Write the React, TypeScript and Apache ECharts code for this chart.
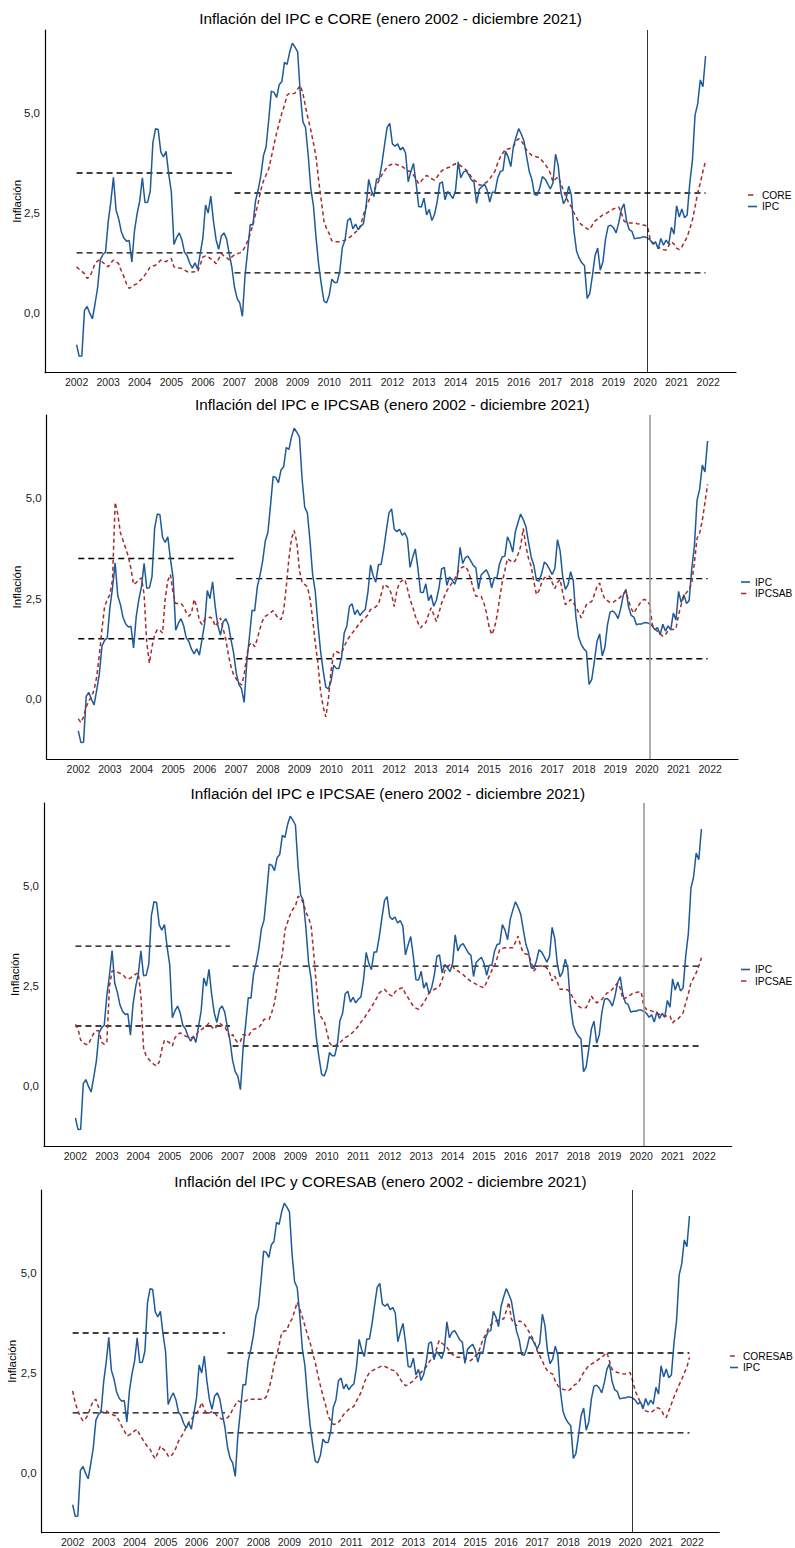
import React, { useEffect, useRef } from "react";
import * as echarts from "echarts";

// ---------- DATA (monthly, Jan 2002 - Dec 2021) ----------
const yearTicks = [2002, 2003, 2004, 2005, 2006, 2007, 2008, 2009, 2010, 2011, 2012, 2013, 2014, 2015, 2016, 2017, 2018, 2019, 2020, 2021, 2022];
const yTicks = [0, 2.5, 5];

const ipc = [
  -0.80, -1.09, -1.08, 0.06, 0.16, -0.01, -0.15, 0.22, 0.63, 1.32, 1.46, 1.52,
  2.27, 2.77, 3.39, 2.57, 2.35, 2.03, 1.87, 1.79, 1.81, 1.27, 2.05, 2.48,
  2.80, 3.38, 2.76, 2.77, 3.05, 4.26, 4.61, 4.59, 4.03, 3.90, 4.04, 3.48,
  3.03, 1.71, 1.88, 2.00, 1.83, 1.52, 1.43, 1.24, 1.12, 1.25, 1.09, 1.49,
  1.88, 2.70, 2.50, 2.92, 2.30, 1.83, 1.59, 1.92, 2.00, 1.85, 1.48, 1.14,
  0.64, 0.36, 0.25, -0.09, 0.92, 1.55, 2.21, 2.20, 2.80, 3.08, 3.43, 3.93,
  4.15, 4.82, 5.55, 5.52, 5.39, 5.71, 5.79, 6.27, 6.22, 6.54, 6.75, 6.65,
  6.53, 5.49, 4.78, 4.64, 3.95, 3.10, 2.68, 1.87, 1.20, 0.71, 0.29, 0.25,
  0.44, 0.84, 0.76, 0.76, 1.04, 1.64, 1.82, 2.31, 2.37, 2.10, 2.22, 2.08,
  2.17, 2.23, 2.66, 3.34, 3.07, 2.91, 3.35, 3.35, 3.73, 4.20, 4.64, 4.74,
  4.23, 4.17, 4.23, 4.08, 4.14, 4.00, 3.28, 3.53, 3.74, 3.25, 2.66, 2.65,
  2.87, 2.45, 2.59, 2.31, 2.46, 2.77, 3.24, 3.28, 2.83, 3.04, 2.96, 2.86,
  3.07, 3.78, 3.38, 3.52, 3.56, 3.45, 3.33, 3.27, 2.74, 3.09, 3.16, 3.22,
  3.07, 2.77, 3.02, 3.02, 3.37, 3.54, 3.56, 4.04, 3.90, 3.66, 4.17, 4.40,
  4.61, 4.47, 4.30, 3.91, 3.54, 3.34, 2.96, 2.94, 3.13, 3.41, 3.35, 3.23,
  3.10, 3.25, 3.97, 3.69, 3.04, 2.73, 2.85, 3.17, 2.94, 2.04, 1.54, 1.36,
  1.25, 1.18, 0.36, 0.48, 0.93, 1.43, 1.62, 1.07, 1.28, 1.85, 2.17, 2.19,
  2.13, 2.00, 2.25, 2.59, 2.73, 2.29, 2.08, 2.04, 1.85, 1.87, 1.87, 1.90,
  1.90, 1.87, 1.82, 1.72, 1.78, 1.60, 1.86, 1.69, 1.82, 1.72, 2.14, 1.97,
  2.68, 2.40, 2.60, 2.38, 2.45, 3.25, 3.81, 4.95, 5.23, 5.83, 5.66, 6.43,
];

const core = [
  1.15, 1.09, 1.04, 0.98, 0.86, 0.90, 1.05, 1.23, 1.30, 1.33, 1.26, 1.20,
  1.15, 1.25, 1.32, 1.28, 1.23, 1.05, 0.90, 0.72, 0.61, 0.65, 0.70, 0.73,
  0.80, 0.86, 0.95, 1.05, 1.15, 1.17, 1.19, 1.25, 1.32, 1.30, 1.28, 1.33,
  1.36, 1.15, 1.13, 1.12, 1.11, 1.07, 1.03, 1.03, 1.02, 1.03, 1.03, 1.20,
  1.40, 1.42, 1.40, 1.35, 1.30, 1.23, 1.35, 1.48, 1.42, 1.38, 1.32, 1.40,
  1.45, 1.48, 1.50, 1.53, 1.65, 1.80, 1.98, 2.20, 2.48, 2.75, 3.07, 3.30,
  3.45, 3.60, 3.90, 4.20, 4.50, 4.75, 5.00, 5.20, 5.45, 5.50, 5.48, 5.50,
  5.60, 5.69, 5.50, 5.15, 4.85, 4.57, 4.25, 3.90, 3.30, 2.80, 2.30, 2.10,
  1.98, 1.80, 1.78, 1.78, 1.78, 1.80, 1.82, 1.86, 1.90, 1.95, 2.02, 2.07,
  2.20, 2.45, 2.65, 2.80, 2.95, 3.07, 3.20, 3.32, 3.45, 3.55, 3.65, 3.70,
  3.72, 3.73, 3.70, 3.68, 3.65, 3.60, 3.55, 3.53, 3.45, 3.35, 3.23, 3.30,
  3.38, 3.44, 3.40, 3.35, 3.32, 3.40, 3.50, 3.57, 3.60, 3.63, 3.65, 3.70,
  3.73, 3.72, 3.68, 3.63, 3.58, 3.50, 3.40, 3.32, 3.28, 3.20, 3.20, 3.24,
  3.28, 3.35, 3.45, 3.55, 3.75, 3.90, 4.00, 4.10, 4.10, 4.12, 4.15, 4.30,
  4.36, 4.30, 4.20, 4.07, 4.00, 3.94, 3.92, 3.90, 3.88, 3.80, 3.72, 3.62,
  3.50, 3.28, 3.35, 3.40, 3.25, 3.05, 2.90, 2.75, 2.65, 2.50, 2.38, 2.25,
  2.20, 2.15, 2.10, 2.09, 2.20, 2.30, 2.35, 2.40, 2.45, 2.48, 2.52, 2.56,
  2.60, 2.63, 2.65, 2.50, 2.30, 2.25, 2.25, 2.25, 2.25, 2.23, 2.22, 2.20,
  2.19, 2.15, 1.82, 1.75, 1.70, 1.65, 1.60, 1.58, 1.57, 1.68, 1.78, 1.72,
  1.62, 1.58, 1.65, 1.78, 1.90, 2.10, 2.32, 2.65, 3.00, 3.25, 3.55, 3.80,
];

const ipcsab = [
  -0.50, -0.59, -0.45, -0.20, -0.05, 0.05, 0.23, 0.55, 1.10, 1.75, 2.30, 2.48,
  2.60, 2.98, 4.90, 4.60, 4.14, 3.95, 3.75, 3.55, 3.25, 2.85, 2.90, 2.97,
  3.02, 2.60, 1.40, 0.89, 1.30, 1.60, 1.73, 1.72, 1.64, 2.50, 2.95, 3.10,
  2.64, 2.38, 2.38, 2.38, 2.30, 2.15, 2.06, 2.14, 2.48, 2.30, 1.95, 1.85,
  1.98, 2.00, 2.04, 2.00, 1.81, 1.90, 2.02, 1.75, 1.50, 1.10, 0.80, 0.60,
  0.50, 0.40, 0.35, 0.60, 1.10, 1.35, 1.40, 1.30, 1.50, 1.75, 1.95, 2.06,
  2.10, 2.15, 2.20, 2.10, 2.00, 1.98, 2.20, 2.80, 3.50, 4.00, 4.20, 3.90,
  3.20, 2.90, 2.85, 2.80, 2.50, 2.00, 1.40, 0.90, 0.20, -0.20, -0.45, 0.00,
  0.70, 1.14, 1.18, 1.15, 1.14, 1.30, 1.45, 1.55, 1.64, 1.72, 1.81, 1.90,
  1.98, 2.02, 2.10, 2.23, 2.25, 2.30, 2.35, 2.60, 2.85, 2.82, 2.77, 2.60,
  2.30, 2.70, 2.90, 2.95, 2.98, 2.75, 2.48, 2.30, 2.06, 1.90, 1.77, 1.85,
  1.90, 2.10, 2.27, 2.10, 1.93, 2.15, 2.39, 2.55, 2.70, 2.80, 2.90, 3.00,
  3.14, 3.25, 3.29, 3.31, 3.20, 3.00, 2.75, 2.56, 2.56, 2.56, 2.40, 2.15,
  1.81, 1.60, 1.75, 2.06, 2.50, 2.90, 3.20, 3.50, 3.45, 3.40, 3.45, 3.60,
  3.80, 4.25, 3.81, 3.50, 3.31, 2.93, 2.60, 2.70, 2.90, 3.02, 3.05, 3.06,
  2.90, 2.75, 2.90, 2.98, 2.64, 2.35, 2.40, 2.48, 2.40, 2.30, 2.15, 2.02,
  2.20, 2.35, 2.40, 2.43, 2.60, 2.80, 2.89, 2.65, 2.48, 2.45, 2.40, 2.40,
  2.45, 2.48, 2.55, 2.62, 2.68, 2.45, 2.25, 2.14, 2.25, 2.35, 2.45, 2.48,
  2.45, 2.35, 1.85, 1.75, 1.68, 1.62, 1.56, 1.60, 1.70, 1.73, 1.73, 1.75,
  2.10, 2.35, 2.56, 2.65, 2.73, 2.90, 3.39, 4.00, 4.14, 4.45, 4.89, 5.35,
];

const ipcsae = [
  1.54, 1.42, 1.15, 1.08, 1.04, 1.04, 1.20, 1.32, 1.38, 1.38, 1.10, 1.04,
  1.10, 2.50, 2.88, 2.88, 2.85, 2.82, 2.79, 2.72, 2.67, 2.70, 2.75, 2.80,
  2.83, 2.25, 0.95, 0.75, 0.67, 0.60, 0.54, 0.50, 0.60, 0.92, 1.15, 1.12,
  1.08, 1.00, 1.21, 1.28, 1.33, 1.30, 1.25, 1.22, 1.21, 1.21, 1.25, 1.38,
  1.40, 1.46, 1.50, 1.58, 1.48, 1.42, 1.50, 1.58, 1.52, 1.50, 1.35, 1.21,
  1.29, 1.17, 1.08, 1.12, 1.29, 1.27, 1.25, 1.35, 1.42, 1.44, 1.46, 1.55,
  1.67, 1.67, 1.67, 1.85, 2.08, 2.50, 3.00, 3.30, 3.90, 4.10, 4.29, 4.42,
  4.50, 4.75, 4.70, 4.58, 4.35, 4.21, 4.00, 3.30, 2.50, 1.85, 1.70, 1.63,
  1.35, 1.08, 1.00, 1.00, 1.05, 1.08, 1.15, 1.21, 1.25, 1.29, 1.35, 1.42,
  1.50, 1.60, 1.67, 1.78, 1.88, 1.98, 2.08, 2.20, 2.33, 2.38, 2.42, 2.35,
  2.28, 2.25, 2.35, 2.42, 2.44, 2.46, 2.30, 2.21, 2.10, 2.00, 1.95, 1.92,
  2.00, 2.08, 2.20, 2.33, 2.38, 2.42, 2.45, 2.50, 2.65, 2.88, 2.95, 3.05,
  3.00, 2.90, 2.88, 2.83, 2.79, 2.72, 2.67, 2.62, 2.58, 2.55, 2.50, 2.48,
  2.46, 2.60, 2.75, 2.90, 3.00, 3.20, 3.42, 3.44, 3.46, 3.46, 3.46, 3.46,
  3.60, 3.75, 3.50, 3.33, 3.30, 3.29, 3.10, 2.88, 2.95, 3.00, 3.00, 3.00,
  2.95, 2.85, 2.63, 2.75, 2.60, 2.42, 2.42, 2.42, 2.40, 2.33, 2.20, 2.08,
  2.00, 1.96, 1.96, 1.96, 2.10, 2.25, 2.15, 2.08, 2.12, 2.17, 2.25, 2.33,
  2.35, 2.42, 2.50, 2.58, 2.45, 2.17, 2.20, 2.25, 2.28, 2.33, 2.34, 2.35,
  2.35, 2.00, 1.92, 1.90, 1.88, 1.85, 1.82, 1.79, 1.77, 1.75, 1.75, 1.75,
  1.58, 1.65, 1.67, 1.75, 1.83, 2.08, 2.30, 2.58, 2.70, 2.83, 3.00, 3.21,
];

const coresab = [
  2.05, 1.75, 1.55, 1.40, 1.30, 1.35, 1.46, 1.65, 1.80, 1.84, 1.65, 1.52,
  1.52, 1.55, 1.50, 1.46, 1.44, 1.42, 1.30, 1.17, 1.05, 0.92, 0.95, 1.00,
  1.05, 1.09, 0.95, 0.85, 0.75, 0.65, 0.59, 0.45, 0.35, 0.50, 0.67, 0.60,
  0.55, 0.42, 0.40, 0.50, 0.62, 0.79, 0.90, 1.00, 1.15, 1.26, 1.34, 1.42,
  1.50, 1.59, 1.76, 1.59, 1.46, 1.50, 1.53, 1.50, 1.42, 1.38, 1.34, 1.36,
  1.38, 1.45, 1.59, 1.70, 1.80, 1.78, 1.76, 1.80, 1.84, 1.84, 1.84, 1.84,
  1.84, 1.84, 1.84, 1.90, 2.10, 2.34, 2.70, 2.93, 3.20, 3.51, 3.55, 3.56,
  3.75, 3.85, 4.05, 4.27, 4.10, 3.90, 3.68, 3.45, 3.26, 3.00, 2.76, 2.45,
  2.18, 1.92, 1.70, 1.42, 1.30, 1.21, 1.22, 1.26, 1.35, 1.46, 1.52, 1.59,
  1.62, 1.67, 1.80, 1.92, 2.05, 2.26, 2.40, 2.51, 2.55, 2.59, 2.62, 2.65,
  2.68, 2.66, 2.63, 2.59, 2.57, 2.55, 2.45, 2.34, 2.25, 2.18, 2.20, 2.26,
  2.30, 2.38, 2.45, 2.52, 2.59, 2.65, 2.76, 2.85, 2.93, 3.10, 3.31, 3.25,
  3.20, 3.14, 3.05, 2.97, 2.93, 2.89, 2.89, 2.89, 2.87, 2.84, 2.80, 2.85,
  2.92, 2.97, 3.15, 3.35, 3.45, 3.60, 3.70, 3.77, 3.80, 3.82, 3.85, 3.85,
  4.05, 4.27, 3.85, 3.75, 3.68, 3.80, 3.78, 3.72, 3.62, 3.51, 3.40, 3.26,
  3.05, 2.93, 2.80, 2.65, 2.55, 2.50, 2.47, 2.30, 2.18, 2.12, 2.09, 2.07,
  2.05, 2.10, 2.18, 2.22, 2.26, 2.40, 2.51, 2.60, 2.68, 2.72, 2.76, 2.80,
  2.85, 2.89, 2.95, 3.01, 2.80, 2.59, 2.55, 2.51, 2.50, 2.48, 2.47, 2.49,
  2.51, 2.30, 2.05, 1.90, 1.76, 1.65, 1.55, 1.53, 1.51, 1.55, 1.63, 1.62,
  1.59, 1.45, 1.38, 1.55, 1.72, 1.90, 2.05, 2.20, 2.34, 2.50, 2.64, 2.89,
];

// inflation target ranges (dates as decimal years)
const targetPeriods = [
  { start: 2002, end: 2006 + 11 / 12, low: 1.5, high: 3.5 },
  { start: 2007, end: 2021 + 11 / 12, low: 1.0, high: 3.0 },
];
const markerDate = 2020.08;

// ---------- STYLE ----------
const FONT = "'Liberation Sans', Arial, Helvetica, sans-serif";
const BLUE = "#1f5a98";
const RED = "#a52a2a";
const START = 2002;
const toPairs = (vals: number[]) => vals.map((v, i) => [START + i / 12, v]);
const SOLID_ICON = "path://M0,0H10V1H0Z";
const DASH_ICON = "path://M0,0H6V1H0Z M9.8,0H10V1H9.8Z";

const panels = [
  {
    title: "Inflación del IPC e CORE (enero 2002 - diciembre 2021)",
    otherName: "CORE", other: core, order: ["CORE", "IPC"],
    grid: { left: 45, top: 30, width: 691, height: 342.7 },
    titleTop: 11, legend: { left: 748, top: 190 }, legendW: 9, nameGap: 22,
    vline: { color: "#000", width: 0.8 },
  },
  {
    title: "Inflación del IPC e IPCSAB (enero 2002 - diciembre 2021)",
    otherName: "IPCSAB", other: ipcsab, order: ["IPC", "IPCSAB"],
    grid: { left: 46.7, top: 415, width: 691.3, height: 344 },
    titleTop: 397, legend: { left: 741, top: 577 }, legendW: 9, nameGap: 23.5,
    vline: { color: "#9a9a9a", width: 1.6 },
  },
  {
    title: "Inflación del IPC e IPCSAE (enero 2002 - diciembre 2021)",
    otherName: "IPCSAE", other: ipcsae, order: ["IPC", "IPCSAE"],
    grid: { left: 44, top: 803, width: 687.7, height: 343 },
    titleTop: 786, legend: { left: 741, top: 964.5 }, legendW: 9, nameGap: 23,
    vline: { color: "#9a9a9a", width: 1.6 },
  },
  {
    title: "Inflación del IPC y CORESAB (enero 2002 - diciembre 2021)",
    otherName: "CORESAB", other: coresab, order: ["CORESAB", "IPC"],
    grid: { left: 41.7, top: 1190, width: 677.6, height: 342.7 },
    titleTop: 1174, legend: { left: 730, top: 1351 }, legendW: 8, nameGap: 23.5,
    vline: { color: "#000", width: 0.8 },
  },
];

export default function App() {
  const ref = useRef<HTMLDivElement>(null);

  useEffect(() => {
    if (!ref.current) return;
    const chart = echarts.init(ref.current, undefined, { renderer: "svg" });

    const grids: any[] = [];
    const xAxes: any[] = [];
    const yAxes: any[] = [];
    const titles: any[] = [];
    const legends: any[] = [];
    const series: any[] = [];

    panels.forEach((p, i) => {
      grids.push({ ...p.grid, containLabel: false, outerBoundsMode: "none" });
      titles.push({
        text: p.title,
        left: p.grid.left + p.grid.width / 2,
        textAlign: "center",
        top: p.titleTop,
        padding: 0,
        textStyle: { fontFamily: FONT, fontSize: 15.3, fontWeight: "normal", color: "#000" },
      });
      legends.push({
        data: p.order.map((n) => ({ name: n, icon: n === "IPC" ? SOLID_ICON : DASH_ICON })),
        orient: "vertical",
        left: p.legend.left,
        top: p.legend.top,
        itemWidth: p.legendW,
        itemHeight: 1.6,
        symbolKeepAspect: false,
        itemGap: 1.5,
        padding: 0,
        selectedMode: false,
        textStyle: { fontFamily: FONT, fontSize: 10.2, color: "#000" },
      });
      xAxes.push({
        type: "value",
        gridIndex: i,
        min: 2001.0,
        max: 2022.88,
        axisLine: { show: true, onZero: false, lineStyle: { color: "#000", width: 1.2 } },
        axisTick: { show: false },
        splitLine: { show: false },
        axisLabel: {
          customValues: yearTicks,
          formatter: (v: number) => String(Math.round(v)),
          fontFamily: FONT,
          fontSize: 10.5,
          color: "#222",
          margin: 4,
        },
      });
      yAxes.push({
        type: "value",
        gridIndex: i,
        min: -1.5,
        max: 7.08,
        name: "Inflación",
        nameLocation: "middle",
        nameGap: p.nameGap,
        nameMoveOverlap: false,
        nameTextStyle: { fontFamily: FONT, fontSize: 11.5, color: "#000" },
        axisLine: { show: true, onZero: false, lineStyle: { color: "#000", width: 1.2 } },
        axisTick: { show: false },
        splitLine: { show: false },
        axisLabel: {
          customValues: yTicks,
          formatter: (v: number) => v.toFixed(1).replace(".", ","),
          fontFamily: FONT,
          fontSize: 11.5,
          color: "#222",
          margin: 5,
        },
      });

      // target bands
      targetPeriods.forEach((t) => {
        [t.low, t.high].forEach((lvl) => {
          series.push({
            type: "line",
            xAxisIndex: i,
            yAxisIndex: i,
            data: [[t.start, lvl], [t.end, lvl]],
            showSymbol: false,
            symbol: "none",
            silent: true,
            lineStyle: { color: "#000", width: 1.4, type: [6, 4] },
            z: 1,
          });
        });
      });

      const ipcSeries = {
        name: "IPC",
        type: "line",
        xAxisIndex: i,
        yAxisIndex: i,
        data: toPairs(ipc),
        symbol: "none",
        showSymbol: false,
        lineStyle: { color: BLUE, width: 1.5 },
        itemStyle: { color: BLUE },
        z: 3,
        markLine: {
          silent: true,
          symbol: ["none", "none"],
          label: { show: false },
          lineStyle: { color: p.vline.color, width: p.vline.width, type: "solid" },
          data: [{ xAxis: markerDate }],
        },
      };
      const otherSeries = {
        name: p.otherName,
        type: "line",
        xAxisIndex: i,
        yAxisIndex: i,
        data: toPairs(p.other),
        symbol: "none",
        showSymbol: false,
        lineStyle: { color: RED, width: 1.5, type: [4, 3] },
        itemStyle: { color: RED },
        z: 3,
      };
      if (p.order[0] === "IPC") {
        series.push(ipcSeries, otherSeries);
      } else {
        series.push(otherSeries, ipcSeries);
      }
    });

    chart.setOption({
      animation: false,
      textStyle: { fontFamily: FONT },
      title: titles,
      legend: legends,
      grid: grids,
      xAxis: xAxes,
      yAxis: yAxes,
      series,
    });

    return () => chart.dispose();
  }, []);

  return (
    <div
      ref={ref}
      style={{ position: "absolute", left: 0, top: 0, width: 795, height: 1548, background: "#fff" }}
    />
  );
}
